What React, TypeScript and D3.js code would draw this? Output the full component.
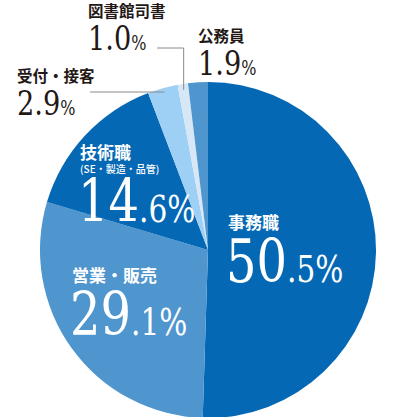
import React from 'react';
import * as d3 from 'd3';

// Share of graduates by job type (%), clockwise from 12 o'clock
const categories = ['事務職', '営業・販売', '技術職', '受付・接客', '図書館司書', '公務員'];
const subLabels = ['', '', '(SE・製造・品管)', '', '', ''];
const values = [50.5, 29.1, 14.6, 2.9, 1.0, 1.9];
const colors = ['#0468b5', '#4f95ce', '#0468b5', '#9ecff4', '#d7e7f5', '#4f95ce'];

const W = 418;
const H = 417;
const cx = 208;
const cy = 250;
const R = 168;

const JP = 'Noto Sans CJK JP';
const NUM = 'DejaVu Serif';
// Serif digits are drawn horizontally condensed
const NUM_SX = 0.8;

// Where each label sits; "inside" labels are white and larger
type Layout = { x: number; y: number; inside: boolean; leader?: 'h' | 'hv'; lx?: number; ly?: number };
const layout: Layout[] = [
  { x: 228, y: 229, inside: true },
  { x: 72, y: 282, inside: true },
  { x: 80, y: 159, inside: true },
  { x: 17, y: 82, inside: false, leader: 'h', lx: 90 },
  { x: 88, y: 17, inside: false, leader: 'hv', lx: 157, ly: 48 },
  { x: 198, y: 42, inside: false },
];

export default function App() {
  const arcs = d3.pie<number>().sort(null).value((d) => d)(values);
  const arc = d3.arc<d3.PieArcDatum<number>>().innerRadius(0).outerRadius(R);

  const pointAt = (a: d3.PieArcDatum<number>, r: number) => {
    const m = (a.startAngle + a.endAngle) / 2;
    return [cx + r * Math.sin(m), cy - r * Math.cos(m)];
  };

  return (
    <svg
      width={W}
      height={H}
      style={{ position: 'absolute', left: 0, top: 0, background: '#fff' }}
    >
      <g transform={`translate(${cx},${cy})`}>
        {arcs.map((a, i) => (
          <path key={i} d={arc(a) || ''} fill={colors[i]} />
        ))}
      </g>

      {arcs.map((a, i) => {
        const L = layout[i];
        if (!L.leader) return null;
        const [ex, ey] = pointAt(a, 162);
        const d =
          L.leader === 'h'
            ? `M${L.lx},${ey - 2}H${ex}`
            : `M${L.lx},${L.ly}H${ex}V${ey}`;
        return <path key={'l' + i} d={d} fill="none" stroke="#8a8a8a" strokeWidth={1} />;
      })}

      {categories.map((name, i) => {
        const L = layout[i];
        const [ip, dp] = values[i].toFixed(1).split('.');
        if (L.inside) {
          const hasSub = subLabels[i] !== '';
          const ny = L.y + (hasSub ? 63 : 53);
          return (
            <g key={'t' + i} fill="#fff">
              <text x={L.x} y={L.y} fontFamily={JP} fontWeight={700} fontSize={17}>
                {name}
              </text>
              {hasSub && (
                <text x={L.x} y={L.y + 14} fontFamily={JP} fontWeight={500} fontSize={10}>
                  {subLabels[i]}
                </text>
              )}
              <text
                transform={`translate(${L.x - 2},${ny}) scale(${NUM_SX},1)`}
                fontFamily={NUM}
              >
                <tspan fontSize={60}>{ip}</tspan>
                <tspan fontSize={37}>{'.' + dp + '%'}</tspan>
              </text>
            </g>
          );
        }
        return (
          <g key={'t' + i} fill="#231815">
            <text x={L.x} y={L.y} fontFamily={JP} fontWeight={700} fontSize={15.5}>
              {name}
            </text>
            <text
              transform={`translate(${L.x},${L.y + 33}) scale(${NUM_SX},1)`}
              fontFamily={NUM}
            >
              <tspan fontSize={34}>{ip + '.' + dp}</tspan>
              <tspan fontSize={20}>%</tspan>
            </text>
          </g>
        );
      })}
    </svg>
  );
}
